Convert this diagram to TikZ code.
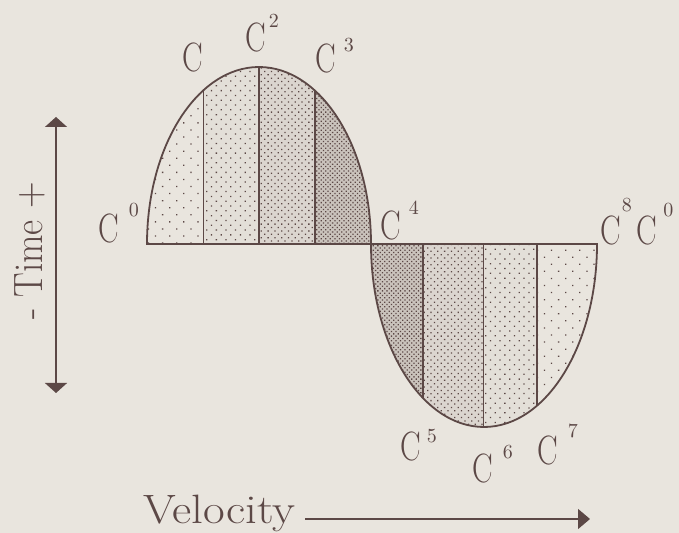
\documentclass[tikz,border=0pt]{standalone}
\usepackage{graphicx}
\usetikzlibrary{arrows.meta, patterns.meta}
\definecolor{paper}{RGB}{233,229,222}
\definecolor{ink}{RGB}{92,72,70}

\newcommand{\bigfont}{\fontsize{20.5}{24}\selectfont}
\newcommand{\supfont}{\fontsize{10}{12}\selectfont}
\newcommand{\cnar}{\scalebox{0.75}[1]{C}}
\newcommand{\cpow}[3]{\cnar\kern#1pt\raisebox{#2pt}{\supfont #3}}

\begin{document}
\begin{tikzpicture}[x=0.5pt, y=-0.5pt,
  lobe/.style={draw=ink, line width=0.9pt},
  divider/.style={draw=ink, line width=#1},
  divider/.default=1pt,
  lbl/.style={inner sep=0pt, anchor=base west, text=ink, font=\bigfont},
  axis/.style={draw=ink, line width=0.7pt}
]
\fill[paper] (0,0) rectangle (679,533);
\useasboundingbox (0,0) rectangle (679,533);

% upper lobe
\begin{scope}
  \clip (147,0) rectangle (371,244);
  \clip (259,244) ellipse [x radius=112, y radius=177];
  \foreach \xa/\xb/\dd/\gr in {147/203/5/0, 203/259/3.4/4, 259/315/2.4/10, 315/371/1.6/22}{
    \fill[ink!\gr!paper] (\xa,0) rectangle (\xb,244);
    \fill[pattern={Dots[distance=\dd pt, radius=0.45pt, angle=45]}, pattern color=ink]
      (\xa,0) rectangle (\xb,244);
  }
  \draw[divider=0.5pt] (203,0) -- (203,244);
  \draw[divider] (259,0) -- (259,244);
  \draw[divider] (315,0) -- (315,244);
\end{scope}
\draw[lobe] (147,244) arc[start angle=180, end angle=360, x radius=112, y radius=177] -- cycle;

% lower lobe
\begin{scope}
  \clip (371,244) rectangle (597,533);
  \clip (484,244) ellipse [x radius=113, y radius=183];
  \foreach \xa/\xb/\dd/\gr in {371/423/1.6/22, 423/483/2.4/10, 483/537/3.4/4, 537/597/5/0}{
    \fill[ink!\gr!paper] (\xa,244) rectangle (\xb,533);
    \fill[pattern={Dots[distance=\dd pt, radius=0.45pt, angle=45]}, pattern color=ink]
      (\xa,244) rectangle (\xb,533);
  }
  \draw[divider] (423,244) -- (423,533);
  \draw[divider=0.5pt] (483,244) -- (483,533);
  \draw[divider=0.8pt] (537,244) -- (537,533);
\end{scope}
\draw[lobe] (371,244) arc[start angle=180, end angle=0, x radius=113, y radius=183] -- cycle;
\draw[divider] (147,244) -- (597,244);

% labels
\node[lbl] (c1) at (182,72) {\cnar};
\node[lbl] (c2) at (245,52) {\cpow{1.5}{12}{2}};
\node[lbl] (c3) at (315,73) {\cpow{4}{10.5}{3}};
\node[lbl] (c0) at (98,243) {\cpow{5}{13}{0}};
\node[lbl] (c4) at (380,240) {\cpow{4}{12.5}{4}};
\node[lbl] (c8) at (600,245) {\cpow{0.5}{16.5}{8}\kern2.5pt\cpow{3}{14}{0}};
\node[lbl] (c5) at (400,460) {\cpow{3}{9}{5}};
\node[lbl] (c6) at (472,482) {\cpow{5}{12}{6}};
\node[lbl] (c7) at (537,465) {\cpow{5}{13.5}{7}};

% axes
\node[lbl, anchor=base, rotate=90] (time) at (42,251) {\scalebox{0.9}[1]{- Time +}};
\coordinate (tlow) at (56,393);
\coordinate (thigh) at (56,117);
\draw[axis, {Triangle[length=5pt,width=11pt]}-{Triangle[length=5pt,width=11pt]}] (tlow) -- (thigh);

\node[lbl] (vel) at (143,523) {\scalebox{1.15}[1]{Velocity}};
\coordinate (v0) at (305,519);
\coordinate (v1) at (590,519);
\draw[axis, -{Triangle[length=6pt,width=10pt]}] (v0) -- (v1);
\end{tikzpicture}
\end{document}
